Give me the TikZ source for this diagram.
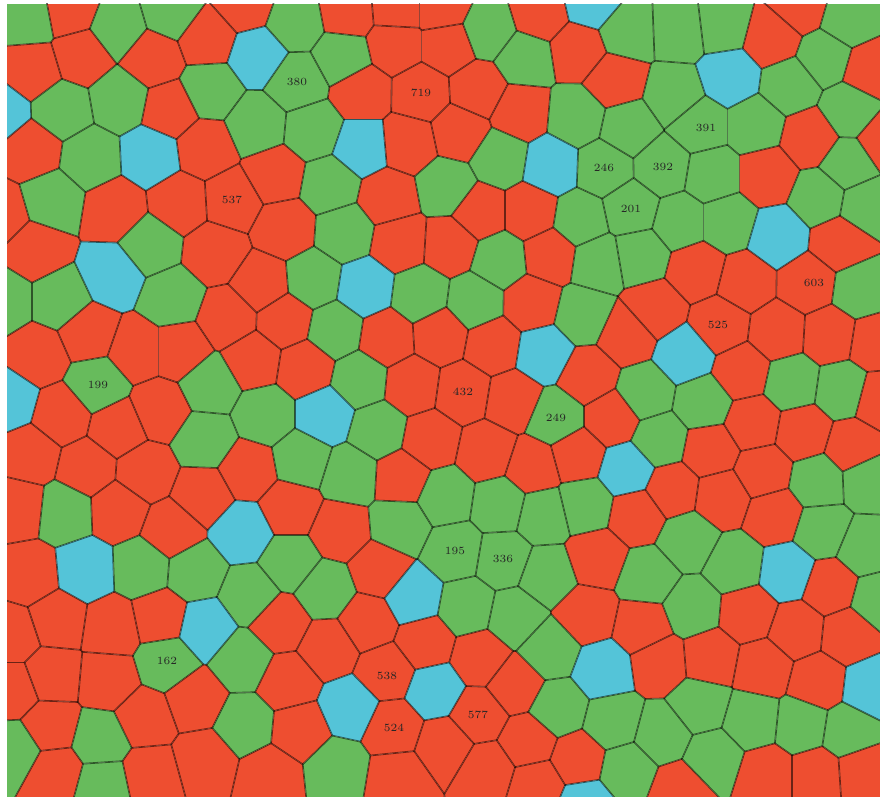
\documentclass[tikz,border=0pt]{standalone}
\usepackage{tikz}
\definecolor{clrR}{RGB}{238,78,48}
\definecolor{clrG}{RGB}{103,187,92}
\definecolor{clrC}{RGB}{84,196,216}
\tikzset{
  cellr/.style={fill=clrR},
  cellg/.style={fill=clrG},
  cellc/.style={fill=clrC},
  border/.style={draw=black,draw opacity=0.55,line width=0.8pt},
  lbl/.style={font=\fontsize{5.5}{6}\selectfont,text=black!85,inner sep=0pt}
}
\newcount\dxc \newcount\dyc \newcount\ndyc \newcount\ndxc
\newif\ifnear
\def\nearsite#1#2{%
  \dxc=\numexpr#1-\sitex\relax \dyc=\numexpr#2-\sitey\relax
  \ndyc=-\dyc \ndxc=-\dxc \nearfalse
  \ifnum\numexpr\dxc*\dxc+\dyc*\dyc\relax<14400
    \ifnum\numexpr\dxc*\dxc+\dyc*\dyc\relax>0 \neartrue\fi
  \fi}
\def\setcm#1#2{\edef\cmopt{\the\dxc,\the\ndyc,\the\ndyc,\the\ndxc,%
  (\the\dimexpr0.25pt*\numexpr\sitex+#1\relax\relax,%
   \the\dimexpr-0.25pt*\numexpr\sitey+#2\relax\relax)}}
\def\clipsite#1#2#3{\nearsite{#1}{#2}\ifnear\setcm{#1}{#2}%
  \clip[cm/.expanded=\cmopt] (-10pt,-10pt) rectangle (0pt,10pt);\fi}
\def\edgesite#1#2#3{\nearsite{#1}{#2}\ifnear\setcm{#1}{#2}%
  \draw[border,cm/.expanded=\cmopt] (0pt,-10pt) -- (0pt,10pt);\fi}
\def\cellsite#1#2#3{%
  \begin{scope}
    \def\sitex{#1}\def\sitey{#2}%
    \let\site\clipsite \sitelist
    \fill[cell#3] (7,4) rectangle (880,797);
    \let\site\edgesite \sitelist
  \end{scope}}

% cell sites in image pixels, from the top left
\def\sitelist{%
\site{28}{18}{g}\site{70}{10}{r}\site{117}{28}{g}\site{172}{12}{g}\site{207}{38}{r}
\site{245}{4}{r}\site{258}{55}{c}\site{295}{22}{g}\site{348}{12}{r}\site{397}{8}{r}
\site{442}{8}{r}\site{488}{30}{g}\site{540}{14}{r}\site{592}{2}{c}\site{627}{32}{g}
\site{680}{30}{g}\site{722}{25}{g}\site{772}{38}{r}\site{800}{6}{r}\site{848}{20}{g}
\site{32}{70}{r}\site{82}{55}{r}\site{153}{58}{r}\site{210}{90}{g}\site{297}{82}{g}
\site{343}{57}{g}\site{395}{45}{r}\site{448}{45}{r}\site{525}{58}{g}\site{578}{50}{r}
\site{615}{80}{r}\site{675}{95}{g}\site{730}{77}{c}\site{790}{85}{g}\site{825}{57}{g}
\site{870}{70}{r}\site{362}{92}{r}\site{421}{93}{r}\site{478}{90}{r}
\site{0}{112}{c}\site{62}{110}{g}\site{120}{100}{g}\site{170}{110}{r}\site{32}{150}{r}
\site{90}{158}{g}\site{151}{155}{c}\site{205}{148}{r}\site{257}{125}{g}\site{313}{130}{g}
\site{362}{147}{c}\site{408}{143}{r}\site{460}{132}{r}\site{520}{112}{r}\site{577}{117}{g}
\site{628}{128}{g}\site{700}{125}{g}\site{755}{125}{g}\site{810}{138}{r}\site{850}{110}{g}
\site{885}{140}{r}\site{500}{158}{g}\site{551}{166}{c}\site{604}{168}{g}\site{663}{167}{g}
\site{712}{175}{g}\site{767}{175}{r}\site{848}{165}{g}
\site{0}{215}{r}\site{52}{200}{g}\site{115}{210}{r}\site{180}{203}{r}\site{232}{200}{r}
\site{275}{175}{r}\site{330}{185}{g}\site{388}{198}{r}\site{447}{187}{g}\site{480}{212}{r}
\site{530}{212}{r}\site{580}{220}{g}\site{631}{209}{g}\site{680}{222}{g}\site{727}{222}{g}
\site{778}{237}{c}\site{820}{197}{g}\site{865}{205}{g}\site{840}{243}{r}
\site{35}{250}{r}\site{113}{275}{c}\site{150}{245}{g}\site{215}{252}{r}\site{285}{228}{r}
\site{345}{232}{g}\site{400}{242}{r}\site{450}{245}{r}\site{500}{260}{g}\site{550}{255}{r}
\site{598}{262}{g}\site{640}{255}{g}\site{697}{270}{r}\site{745}{282}{r}\site{808}{283}{r}
\site{860}{290}{g}
\site{4}{300}{g}\site{60}{300}{g}\site{172}{298}{g}\site{228}{318}{r}\site{262}{284}{r}
\site{313}{280}{g}\site{365}{288}{c}\site{420}{295}{g}\site{475}{302}{g}\site{532}{303}{r}
\site{583}{315}{g}\site{655}{310}{r}\site{720}{325}{r}\site{778}{332}{r}\site{830}{335}{r}
\site{875}{342}{r}
\site{38}{355}{r}\site{88}{333}{r}\site{137}{350}{r}\site{180}{350}{r}\site{285}{320}{r}
\site{335}{330}{g}\site{387}{338}{r}\site{440}{335}{r}\site{253}{360}{r}\site{305}{368}{r}
\site{493}{345}{r}\site{544}{353}{c}\site{627}{335}{r}\site{685}{355}{c}\site{742}{372}{r}
\site{792}{383}{g}\site{842}{390}{g}\site{880}{400}{r}\site{97}{385}{g}\site{210}{385}{g}
\site{360}{380}{g}\site{412}{385}{r}\site{463}{392}{r}\site{513}{400}{r}\site{588}{376}{r}
\site{645}{393}{g}\site{703}{403}{g}
\site{8}{400}{c}\site{62}{415}{r}\site{118}{428}{r}\site{160}{410}{r}\site{205}{440}{g}
\site{265}{415}{g}\site{325}{415}{c}\site{378}{430}{g}\site{430}{440}{r}\site{556}{418}{g}
\site{612}{418}{r}\site{660}{440}{g}\site{753}{423}{r}\site{803}{432}{r}\site{853}{447}{r}
\site{30}{455}{r}\site{87}{468}{r}\site{145}{472}{r}\site{248}{470}{r}\site{302}{460}{g}
\site{350}{475}{g}\site{402}{478}{r}\site{487}{452}{r}\site{533}{467}{r}\site{577}{455}{r}
\site{627}{470}{c}\site{710}{450}{r}\site{763}{472}{r}
\site{203}{495}{r}\site{18}{507}{r}\site{65}{512}{g}\site{118}{510}{r}\site{172}{530}{r}
\site{243}{532}{c}\site{290}{508}{r}\site{340}{530}{r}\site{400}{525}{g}\site{445}{497}{g}
\site{500}{505}{g}\site{543}{515}{g}\site{585}{505}{g}\site{637}{515}{r}\site{672}{490}{r}
\site{722}{497}{r}\site{775}{515}{r}\site{818}{482}{g}\site{868}{480}{g}\site{822}{530}{g}
\site{30}{575}{r}\site{85}{570}{c}\site{142}{568}{g}\site{195}{572}{g}\site{290}{562}{g}
\site{380}{570}{r}\site{455}{551}{g}\site{503}{559}{g}\site{547}{575}{g}\site{597}{558}{r}
\site{648}{577}{g}\site{688}{540}{g}\site{735}{565}{g}\site{787}{572}{c}\site{865}{548}{g}
\site{250}{595}{g}\site{325}{590}{g}\site{413}{597}{c}
\site{57}{620}{r}\site{112}{628}{r}\site{160}{618}{r}\site{205}{628}{c}\site{12}{635}{r}
\site{280}{623}{r}\site{328}{648}{r}\site{368}{622}{r}\site{425}{643}{r}\site{467}{607}{g}
\site{515}{617}{g}\site{587}{615}{r}\site{643}{627}{r}\site{692}{608}{g}\site{748}{613}{r}
\site{797}{630}{r}\site{848}{635}{r}\site{830}{587}{r}\site{878}{600}{g}\site{167}{662}{g}
\site{52}{675}{r}\site{108}{680}{r}\site{243}{660}{g}\site{288}{682}{r}\site{387}{672}{r}
\site{480}{658}{r}\site{515}{685}{r}\site{550}{650}{g}\site{603}{670}{c}\site{660}{662}{r}
\site{710}{658}{r}\site{763}{668}{r}\site{818}{682}{r}\site{870}{688}{c}
\site{12}{690}{r}\site{145}{718}{r}\site{195}{700}{r}\site{50}{727}{r}\site{100}{740}{g}
\site{15}{750}{g}\site{55}{772}{r}\site{103}{785}{g}\site{150}{775}{r}\site{205}{760}{r}
\site{245}{725}{g}\site{300}{730}{r}\site{350}{708}{c}\site{435}{690}{c}\site{393}{728}{r}
\site{478}{715}{r}\site{558}{708}{g}\site{613}{722}{g}\site{662}{735}{g}\site{700}{705}{g}
\site{752}{720}{g}\site{802}{725}{g}\site{848}{732}{g}\site{270}{775}{r}\site{337}{768}{g}
\site{398}{778}{r}\site{445}{745}{r}\site{487}{770}{r}\site{528}{742}{r}\site{537}{785}{r}
\site{578}{760}{r}\site{585}{805}{c}\site{627}{770}{g}\site{680}{790}{r}\site{713}{758}{g}
\site{767}{775}{r}\site{817}{775}{r}\site{862}{772}{r}%
}

\begin{document}
\begin{tikzpicture}[x=0.5pt,y=-0.5pt]
  \useasboundingbox (0,0) rectangle (880,797);
  \fill[white] (0,0) rectangle (880,797);

  \begin{scope}
    \clip (7,4) rectangle (880,797);
    \let\site\cellsite \sitelist
  \end{scope}

  \node[lbl] (l380) at (297,82) {380};
  \node[lbl] (l719) at (421,93) {719};
  \node[lbl] (l391) at (706,128) {391};
  \node[lbl] (l246) at (604,168) {246};
  \node[lbl] (l392) at (663,167) {392};
  \node[lbl] (l201) at (631,209) {201};
  \node[lbl] (l537) at (232,200) {537};
  \node[lbl] (l603) at (814,283) {603};
  \node[lbl] (l525) at (718,325) {525};
  \node[lbl] (l199) at (98,385) {199};
  \node[lbl] (l432) at (463,392) {432};
  \node[lbl] (l249) at (556,418) {249};
  \node[lbl] (l195) at (455,551) {195};
  \node[lbl] (l336) at (503,559) {336};
  \node[lbl] (l162) at (167,661) {162};
  \node[lbl] (l538) at (387,676) {538};
  \node[lbl] (l524) at (394,728) {524};
  \node[lbl] (l577) at (478,715) {577};
\end{tikzpicture}
\end{document}
